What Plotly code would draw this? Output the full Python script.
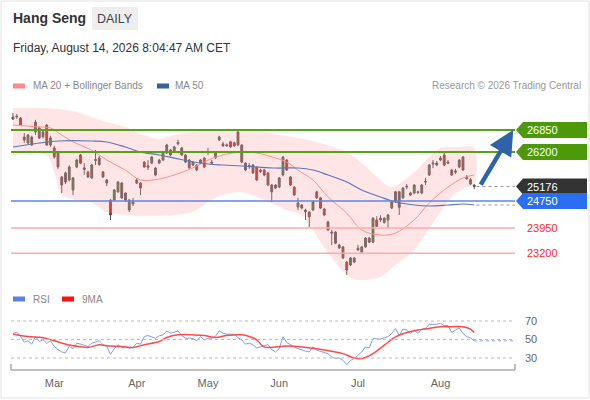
import pandas as pd
import plotly.graph_objects as go

# ---- data ---------------------------------------------------------------
holidays = ["2026-02-17", "2026-02-18", "2026-02-19", "2026-04-03", "2026-04-06",
            "2026-04-07", "2026-05-01", "2026-05-25", "2026-06-19", "2026-07-01"]
dates = pd.bdate_range("2026-02-10", "2026-08-14")
dates = dates[~dates.isin(pd.to_datetime(holidays))]

opens = [27235, 27264, 27205, 26643, 26465, 26640, 26790, 26910, 26790, 26998,
         26406, 26320, 26200, 25460, 25580, 25370, 25074, 25755, 26110, 25730,
         25610, 25430, 25980, 26020, 25610, 25370, 24778, 24778, 25020, 25280,
         24985, 24482, 24660, 25370, 25280, 25900, 25790, 25870, 25725, 25962,
         25962, 26170, 26258, 26200, 26440, 26320, 26110, 25730, 25900, 25814,
         25870, 26020, 26180, 25900, 26020, 26554, 26440, 26380, 26500, 26470,
         26790, 26406, 25870, 25800, 25814, 25750, 25666, 25666, 25580, 25222,
         25130, 25160, 25518, 25962, 25460, 25160, 24570, 24630, 24482, 24420,
         24482, 25020, 24840, 24510, 24130, 23830, 23830, 23446, 23390, 22940,
         22854, 23060, 23300, 23240, 23390, 23650, 23530, 24186, 24186, 24110,
         24186, 24540, 24720, 25020, 24840, 25160, 24985, 24985, 25020, 24985,
         25310, 25518, 25840, 25870, 25962, 26110, 25900, 25666, 25640, 25755,
         26050, 25460, 25250, 25220]
highs = [27354, 27320, 27235, 26760, 26730, 26680, 27150, 26950, 26820, 27030,
         26680, 26380, 26230, 25490, 25620, 25800, 25460, 26000, 26140, 25870,
         25640, 25850, 26258, 26080, 25640, 25400, 24800, 25100, 25340, 25310,
         25000, 24810, 24840, 25430, 25310, 25930, 25962, 26080, 25750, 25990,
         26200, 26440, 26290, 26380, 26560, 26350, 26140, 25990, 25930, 25840,
         25990, 26050, 26320, 25960, 26230, 26680, 26500, 26450, 26530, 26500,
         26850, 26430, 25900, 25870, 25840, 25780, 25700, 25700, 25610, 25250,
         25250, 25460, 26080, 25990, 25490, 25190, 24840, 24660, 24520, 24450,
         24750, 25050, 24870, 24540, 24160, 23890, 23860, 23480, 23420, 22970,
         23090, 23090, 23450, 23420, 23680, 23680, 24270, 24300, 24330, 24270,
         24360, 24750, 25050, 25050, 25160, 25250, 25020, 25250, 25050, 25250,
         25430, 25840, 25962, 25930, 26080, 26170, 25962, 25700, 25700, 25990,
         26080, 25518, 25430, 25250]
lows = [27146, 27180, 26970, 26465, 26430, 26380, 26700, 26580, 26600, 26380,
        26350, 26000, 25700, 24985, 25250, 25330, 24926, 25720, 25840, 25520,
        25430, 25400, 25814, 25790, 25430, 25190, 24186, 24750, 24990, 24810,
        24720, 24420, 24600, 25250, 24926, 25730, 25666, 25840, 25480, 25840,
        25930, 26140, 26080, 26170, 26400, 26080, 25870, 25700, 25780, 25630,
        25840, 25720, 26110, 25840, 25990, 26520, 26350, 26350, 26320, 26350,
        26380, 25870, 25630, 25700, 25550, 25340, 25580, 25480, 25190, 24720,
        25100, 25130, 25480, 25640, 25190, 24900, 24480, 24500, 24190, 23980,
        24450, 24810, 24510, 24300, 23860, 23446, 23470, 23330, 23030, 22558,
        22820, 22910, 23270, 23210, 23360, 23500, 23500, 23980, 24130, 24080,
        23950, 24510, 24690, 24334, 24810, 25100, 24900, 24950, 24960, 24950,
        25222, 25490, 25720, 25780, 25930, 25780, 25840, 25490, 25550, 25720,
        25640, 25400, 25220, 25100]
closes = [27175, 27240, 27000, 26554, 26702, 26406, 27086, 26615, 26650, 26406,
          26615, 26050, 25755, 25222, 25310, 25755, 25430, 25962, 25870, 25680,
          25460, 25814, 25950, 25830, 25460, 25280, 24334, 25074, 25310, 24840,
          24778, 24778, 24720, 25280, 25130, 25755, 25750, 26050, 25518, 25870,
          26170, 26406, 26110, 26350, 26480, 26110, 25900, 25962, 25814, 25666,
          25962, 25755, 26200, 25870, 26200, 26643, 26380, 26406, 26350, 26380,
          26406, 25900, 25666, 25760, 25580, 25370, 25620, 25518, 25222, 25020,
          25222, 25430, 26050, 25666, 25222, 24926, 24690, 24540, 24430, 24280,
          24720, 24840, 24540, 24334, 23890, 23800, 23500, 23360, 23060, 22706,
          23060, 22940, 23350, 23390, 23650, 23530, 24240, 24000, 24240, 24240,
          24334, 24720, 25020, 24560, 25130, 25180, 24926, 25222, 25000, 25222,
          25330, 25814, 25870, 25814, 26020, 25814, 25870, 25518, 25600, 25962,
          25666, 25400, 25380, 25176]

ma20_days = [0, 7, 10, 13, 16, 21, 25, 30, 34, 39, 43, 48, 52, 56, 61, 65, 70, 73,
             76, 80, 84, 89, 93, 98, 102, 107, 111, 116, 120, 123]
ma20 = [26998, 26940, 26910, 26700, 26500, 26250, 25960, 25660, 25370, 25400, 25520,
        25730, 25960, 26110, 26200, 26170, 26020, 25900, 25660, 25370, 24870, 24390,
        23890, 23740, 23800, 24190, 24690, 25160, 25430, 25520]

upper_days = [0, 7, 12, 17, 21, 25, 30, 34, 39, 43, 48, 52, 56, 61, 65, 71, 79, 89,
              93, 98, 101, 107, 111, 114, 118, 123]
upper = [27500, 27500, 27470, 27380, 27230, 27090, 26940, 26730, 26580, 26700, 26790,
         26850, 26880, 26880, 26850, 26700, 26550, 26200, 25870, 25370, 25160, 25600,
         26050, 26320, 26340, 26320]

lower_days = [0, 9, 11, 13, 16, 21, 25, 30, 43, 48, 52, 56, 61, 65, 70, 73, 77, 80,
              84, 89, 92, 98, 103, 107, 112, 117, 121, 123]
lower = [26110, 26110, 25600, 24930, 24800, 24700, 24420, 24330, 24330, 24420, 24720,
         24930, 25010, 24870, 24630, 24480, 24330, 23890, 23210, 22560, 22410, 22500,
         22940, 23300, 24100, 24870, 25160, 25220]

ma50_days = [0, 7, 12, 21, 25, 30, 34, 39, 43, 48, 52, 56, 61, 65, 70, 76, 80, 84,
             89, 93, 98, 102, 107, 111, 116, 120, 123]
ma50 = [26347, 26465, 26525, 26525, 26495, 26347, 26200, 26110, 26020, 25903, 25844,
        25814, 25784, 25755, 25725, 25725, 25666, 25518, 25311, 25074, 24867, 24719,
        24630, 24600, 24630, 24660, 24630]

rsi = [56.5, 57.9, 53.2, 47.1, 48.6, 45.0, 53.2, 47.9, 49.6, 46.0,
       48.6, 42.5, 39.0, 36.5, 35.5, 42.5, 40.0, 46.0, 45.0, 44.0,
       42.5, 46.0, 47.0, 48.6, 44.3, 42.5, 34.0, 40.0, 44.3, 41.4,
       42.0, 40.7, 41.4, 46.0, 45.0, 53.2, 54.3, 53.2, 51.4, 54.0,
       55.0, 59.3, 56.8, 57.9, 59.3, 54.3, 51.4, 51.4, 51.0, 48.6,
       53.2, 49.6, 51.4, 51.4, 53.5, 59.3, 56.8, 55.7, 55.7, 55.7,
       52.0, 49.6, 45.0, 46.0, 44.3, 40.7, 42.0, 43.0, 44.5, 39.0,
       36.5, 40.0, 53.0, 46.7, 44.0, 42.0, 40.0, 38.4, 37.5, 36.5,
       42.0, 38.4, 37.0, 35.5, 34.7, 31.0, 29.5, 30.0, 27.5, 22.7,
       27.5, 29.3, 33.0, 36.5, 42.0, 41.0, 51.0, 50.5, 50.4, 51.8,
       53.0, 56.5, 62.0, 54.0, 61.3, 60.2, 56.5, 60.2, 56.5, 61.3,
       62.0, 66.4, 66.4, 66.4, 67.5, 65.0, 65.0, 57.6, 60.2, 62.7,
       56.5, 53.0, 51.8, 48.5]

rsi_ma_days = [0, 4, 8, 11, 15, 18, 20, 23, 25, 29, 32, 35, 39, 41, 44, 48, 51, 54,
               57, 61, 63, 65, 67, 73, 77, 81, 85, 88, 91, 93, 96, 99, 102, 105, 108,
               111, 114, 117, 120, 122, 123]
rsi_ma = [55.7, 53.2, 52.0, 48.6, 44.0, 42.1, 41.4, 44.3, 43.2, 42.5, 41.4, 44.3,
          47.9, 52.1, 55.0, 55.0, 54.3, 52.1, 54.3, 55.0, 53.2, 49.6, 42.0, 43.0,
          42.0, 40.0, 37.3, 34.7, 30.0, 29.3, 34.7, 43.8, 52.9, 57.6, 60.2, 62.0,
          63.8, 63.8, 63.8, 61.3, 57.6]

levels_green = [26850, 26200]
level_blue = 24750
levels_red = [23950, 23200]
last_close = closes[-1]
target = 26850

# ---- helpers (pixel -> paper) --------------------------------------------
W, H = 590, 400


def px(x):
    return x / W


def py(y):
    return 1 - y / H


days = list(range(len(dates)))
month_days, month_names = [], []
for i, d in enumerate(dates):
    if i > 0 and d.month != dates[i - 1].month:
        month_days.append(i)
        month_names.append(d.strftime("%b"))

FONT = "Liberation Sans, Arial, sans-serif"
x_lo, x_hi = -0.533, 133.87

fig = go.Figure()

band_x = upper_days + lower_days[::-1]
band_y = upper + lower[::-1]
fig.add_trace(go.Scatter(x=band_x, y=band_y, fill="toself", mode="lines",
                         line=dict(width=0, shape="spline", smoothing=0.8),
                         fillcolor="rgba(255,150,150,0.25)", hoverinfo="skip"))
fig.add_trace(go.Scatter(x=ma20_days, y=ma20, mode="lines",
                         line=dict(color="#ff8f8f", width=1, shape="spline")))
fig.add_trace(go.Scatter(x=ma50_days, y=ma50, mode="lines",
                         line=dict(color="#5a78b8", width=1.2, shape="spline")))
fig.add_trace(go.Candlestick(
    x=days, open=opens, high=highs, low=lows, close=closes, whiskerwidth=0,
    increasing=dict(fillcolor="#2e8b2e", line=dict(color="#555555", width=1)),
    decreasing=dict(fillcolor="#e41b1b", line=dict(color="#555555", width=1)),
))

fig.add_trace(go.Scatter(x=days, y=rsi, mode="lines", yaxis="y2",
                         line=dict(color="#7f9ef0", width=1)))
fig.add_trace(go.Scatter(x=rsi_ma_days, y=rsi_ma, mode="lines", yaxis="y2",
                         line=dict(color="#ff4a4a", width=1.5, shape="spline")))

shapes = []
annotations = []

# card border
shapes.append(dict(type="rect", xref="paper", yref="paper", x0=px(1), x1=px(589),
                   y0=py(398), y1=py(1), line=dict(color="#e2e2e2", width=1)))
# DAILY badge
shapes.append(dict(type="rect", xref="paper", yref="paper", x0=px(92), x1=px(138),
                   y0=py(30), y1=py(7), fillcolor="#eeeeee", line=dict(width=0)))

# level lines
for lv in levels_green:
    shapes.append(dict(type="line", xref="paper", yref="y", x0=px(11), x1=px(515),
                       y0=lv, y1=lv, line=dict(color="#56a318", width=2)))
shapes.append(dict(type="line", xref="paper", yref="y", x0=px(11), x1=px(515),
                   y0=level_blue, y1=level_blue, line=dict(color="#5b86ee", width=1.5)))
for lv in levels_red:
    shapes.append(dict(type="line", xref="paper", yref="y", x0=px(11), x1=px(515),
                       y0=lv, y1=lv, line=dict(color="#ffaaaa", width=1.5)))

# dotted connectors to the labels
shapes.append(dict(type="line", xref="x", yref="y", x0=days[-1] + 0.6, x1=x_hi,
                   y0=last_close, y1=last_close, line=dict(color="#999999", width=1, dash="dot")))
shapes.append(dict(type="line", xref="x", yref="y", x0=days[-1] + 0.6, x1=x_hi,
                   y0=ma50[-1], y1=ma50[-1], line=dict(color="#8899bb", width=1, dash="dot")))
shapes.append(dict(type="line", xref="x", yref="y2", x0=days[-1], x1=x_hi,
                   y0=rsi[-1], y1=rsi[-1], line=dict(color="#b0c2f0", width=1.5, dash="dot")))

# price badges
half = 8 * 29.6
badges = [(levels_green[0], "#4c9a0a"), (levels_green[1], "#4c9a0a"),
          (last_close, "#333333"), (level_blue, "#2a6ef2")]
for val, col in badges:
    path = (f"M {px(516)},{val} L {px(523)},{val + half} L {px(587)},{val + half} "
            f"L {px(587)},{val - half} L {px(523)},{val - half} Z")
    shapes.append(dict(type="path", xref="paper", yref="y", path=path,
                       fillcolor=col, line=dict(width=0)))
    annotations.append(dict(xref="paper", yref="y", x=px(525), y=val, text=f"{val}",
                            showarrow=False, xanchor="left", yanchor="middle",
                            font=dict(family=FONT, size=11, color="white")))
for lv in levels_red:
    annotations.append(dict(xref="paper", yref="y", x=px(525), y=lv, text=f"{lv}",
                            showarrow=False, xanchor="left", yanchor="middle",
                            font=dict(family=FONT, size=11, color="#ff2626")))

# forecast arrow
annotations.append(dict(xref="x", yref="y", axref="x", ayref="y", x=133.4, y=target,
                        ax=days[-1] + 1.5, ay=last_close + 10, text="", showarrow=True,
                        arrowhead=2, arrowsize=1.1, arrowwidth=4.5, arrowcolor="#2f63a9"))

# RSI grid + labels
for v in [30, 50, 70]:
    shapes.append(dict(type="line", xref="paper", yref="y2", x0=px(11), x1=px(515),
                       y0=v, y1=v, line=dict(color="#bbbbbb", width=1, dash="dot")))
    annotations.append(dict(xref="paper", yref="y2", x=px(531), y=v, text=str(v),
                            showarrow=False, xanchor="center", yanchor="middle",
                            font=dict(family=FONT, size=11, color="#666666")))

# bottom axis line with end ticks
shapes.append(dict(type="line", xref="paper", yref="paper", x0=px(11), x1=px(515),
                   y0=py(370), y1=py(370), line=dict(color="#aaaaaa", width=1.5)))
for xe in (11, 515):
    shapes.append(dict(type="line", xref="paper", yref="paper", x0=px(xe), x1=px(xe),
                       y0=py(370), y1=py(364), line=dict(color="#aaaaaa", width=1.5)))

# legend swatches
for x0, x1, y, col in [(13, 25, 86, "#ff8a8a"), (157, 169, 86, "#36609e"),
                       (13, 25, 299, "#5d80e6"), (62, 74, 299, "#ff1010")]:
    shapes.append(dict(type="rect", xref="paper", yref="paper", x0=px(x0), x1=px(x1),
                       y0=py(y + 2.5), y1=py(y - 2.5), fillcolor=col, line=dict(width=0)))


def text(x, y, s, size, color, anchor="left", bold=False):
    annotations.append(dict(xref="paper", yref="paper", x=px(x), y=py(y),
                            text=f"<b>{s}</b>" if bold else s, showarrow=False,
                            xanchor=anchor, yanchor="middle",
                            font=dict(family=FONT, size=size, color=color)))


text(11, 18, "Hang Seng", 14, "#333333", bold=True)
text(115, 19, "DAILY", 12.5, "#444444", anchor="center")
text(11, 48, "Friday, August 14, 2026 8:04:47 AM CET", 12, "#333333")
text(31, 86, "MA 20 + Bollinger Bands", 10, "#888888")
text(173, 86, "MA 50", 10, "#888888")
text(583, 86, "Research © 2026 Trading Central", 10, "#999999", anchor="right")
text(31, 299, "RSI", 10, "#888888")
text(80, 299, "9MA", 10, "#888888")

fig.update_layout(
    width=W, height=H, margin=dict(l=0, r=0, t=0, b=0),
    paper_bgcolor="white", plot_bgcolor="rgba(0,0,0,0)", showlegend=False,
    shapes=shapes, annotations=annotations,
    xaxis=dict(domain=[px(11), px(515)], range=[x_lo, x_hi], anchor="y2",
               rangeslider=dict(visible=False), showgrid=False, zeroline=False,
               showline=False, ticks="", tickvals=month_days, ticktext=month_names,
               tickfont=dict(family=FONT, size=11, color="#666666"), ticklabelstandoff=5),
    yaxis=dict(domain=[py(285), py(105)], range=[22262, 27590], showgrid=False,
               zeroline=False, showticklabels=False),
    yaxis2=dict(domain=[py(370), py(305)], range=[17.0, 87.3], showgrid=False,
                zeroline=False, showticklabels=False),
)

fig.write_html("out.html", config={"displayModeBar": False},
               post_script="document.body.style.margin='0';")
